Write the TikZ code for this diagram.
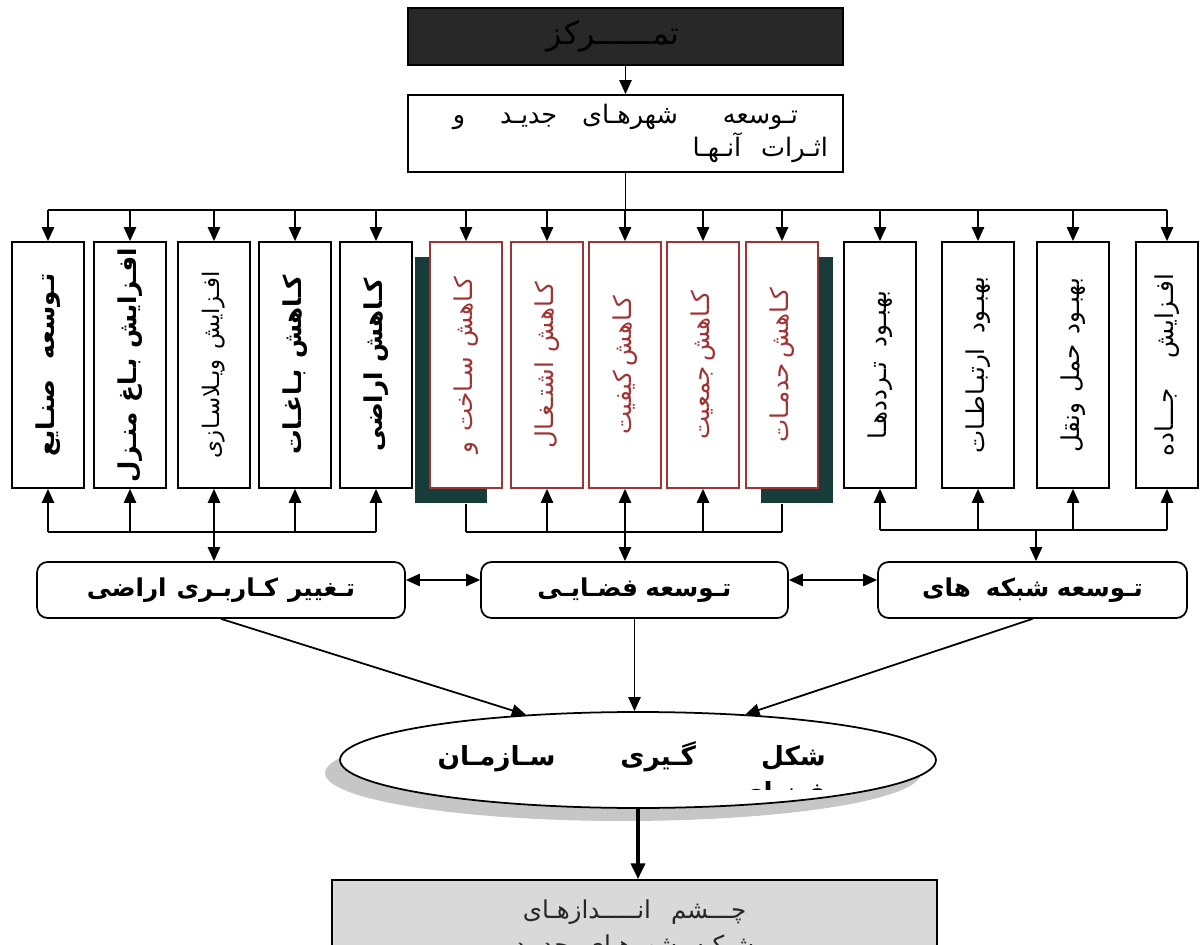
\documentclass[tikz,border=0pt]{standalone}
\usepackage{fontspec}
\usetikzlibrary{positioning,shapes.geometric,arrows.meta,shadows}
\TeXXeTstate=1
\newfontfamily\arabicfont[Script=Arabic]{DejaVu Sans}
\newcommand{\ar}[1]{\arabicfont\beginR #1\endR}
\newcommand{\vt}[1]{\rotatebox{90}{\arabicfont\beginR #1\endR}}
\definecolor{boxred}{RGB}{160,52,52}
\definecolor{shadeteal}{RGB}{24,60,58}
\definecolor{topgray}{RGB}{40,40,40}
\definecolor{lowgray}{RGB}{217,217,217}
\tikzset{topbox/.style={draw=black, fill=topgray, line width=1pt, minimum width=8.7cm, minimum height=1.14cm, font=\fontsize{18}{20}\selectfont},
newbox/.style={draw=black, fill=white, line width=1pt, minimum width=8.7cm, minimum height=1.54cm, text width=8.1cm, align=right, font=\fontsize{14.5}{19}\selectfont},
vertbox/.style={draw=black, fill=white, line width=1pt, minimum width=1.44cm, minimum height=4.92cm, inner sep=0pt, font=\bfseries\fontsize{14}{16}\selectfont},
thinbox/.style={vertbox, font=\fontsize{13}{16}\selectfont},
redbox/.style={vertbox, draw=boxred, text=boxred, font=\fontsize{14}{16}\selectfont},
tealshadow/.style={drop shadow={shadow xshift=#1, shadow yshift=-0.3cm, fill=shadeteal, opacity=1}},
midbox/.style={draw=black, fill=white, rounded corners=6pt, line width=1pt, minimum height=1.12cm, inner sep=0pt, font=\bfseries\fontsize{14}{16}\selectfont},
arr/.style={line width=1pt, -{Triangle[length=8pt,width=7pt]}},
dblarr/.style={line width=1pt, {Triangle[length=8pt,width=7pt]}-{Triangle[length=8pt,width=7pt]}},
ln/.style={line width=1pt},}
\begin{document}
\begin{tikzpicture}[x=0.02cm, y=-0.02cm]
\useasboundingbox (0,0) rectangle (1200,945);
\node [topbox] (conc) at (625.5,36.5) {\ar{\hspace{0.5cm}تمــــــرکز}};
\node [newbox] (newcity) at (625.5,133.5) {\ar{\hspace{0.6cm}تـوسعه\hspace{0.9cm}شهرهـای\hspace{0.5cm}جدیـد\hspace{0.7cm}و}\\ \ar{اثـرات\hspace{0.4cm}آنـهـا}};
\draw [arr] (conc) -- (newcity);
% ردیف جعبه های عمودی
\node [vertbox] (b1) at (48,365) {\vt{تـوسعه\hspace{0.4cm}صنـایع}};
\node [vertbox] (b2) at (130,365) {\vt{افـزایش\hspace{0.2cm}بـاغ\hspace{0.2cm}منـزل}};
\node [thinbox] (b3) at (214,365) {\vt{افـزایش\hspace{0.2cm}ویـلاسـازی}};
\node [vertbox] (b4) at (295,365) {\vt{کـاهش\hspace{0.2cm}بـاغـات}};
\node [vertbox] (b5) at (376,365) {\vt{کـاهش\hspace{0.2cm}اراضی}};
\node [redbox, tealshadow=-0.3cm] (b6) at (466,365) {\vt{کـاهش\hspace{0.2cm}سـاخت\hspace{0.2cm}و}};
\node [redbox] (b7) at (547,365) {\vt{کـاهش\hspace{0.2cm}اشتـغـال}};
\node [redbox] (b8) at (625,365) {\vt{کـاهش\hspace{0.1cm}کیفیت}};
\node [redbox] (b9) at (703,365) {\vt{کـاهش\hspace{0.1cm}جمعیت}};
\node [redbox, tealshadow=0.3cm] (b10) at (782,365) {\vt{کـاهش\hspace{0.1cm}حدمـات}};
\node [vertbox, font=\fontsize{14}{16}\selectfont] (b11) at (880,365) {\vt{بهبـود\hspace{0.3cm}تـرددهـا}};
\node [vertbox, font=\fontsize{14}{16}\selectfont] (b12) at (978,365) {\vt{بهبـود\hspace{0.3cm}ارتبـاطـات}};
\node [vertbox, font=\fontsize{14}{16}\selectfont] (b13) at (1073,365) {\vt{بهبـود\hspace{0.2cm}حمل\hspace{0.2cm}ونقل}};
\node [vertbox, font=\fontsize{14}{16}\selectfont, minimum width=1.24cm] (b14) at (1167,365) {\vt{افـزایش\hspace{0.6cm}جـــاده}};
% پخش از توسعه شهرهای جدید
\coordinate (tj) at (625.5,210);
\draw [ln] (newcity) -- (tj);
\draw [ln] (b1.north |- tj) -- (b14.north |- tj);
\draw [arr] (b1.north |- tj) -- (b1);
\draw [arr] (b2.north |- tj) -- (b2);
\draw [arr] (b3.north |- tj) -- (b3);
\draw [arr] (b4.north |- tj) -- (b4);
\draw [arr] (b5.north |- tj) -- (b5);
\draw [arr] (b6.north |- tj) -- (b6);
\draw [arr] (b7.north |- tj) -- (b7);
\draw [arr] (b8.north |- tj) -- (b8);
\draw [arr] (b9.north |- tj) -- (b9);
\draw [arr] (b10.north |- tj) -- (b10);
\draw [arr] (b11.north |- tj) -- (b11);
\draw [arr] (b12.north |- tj) -- (b12);
\draw [arr] (b13.north |- tj) -- (b13);
\draw [arr] (b14.north |- tj) -- (b14);
% سه جعبه میانی
\node [midbox, minimum width=7.36cm] (landuse) at (221,590) {\ar{تـغییر\hspace{0.2cm}کـاربـری\hspace{0.2cm}اراضی}};
\node [midbox, minimum width=6.14cm] (spatial) at (634.5,590) {\ar{تـوسعه\hspace{0.15cm}فضـایـی}};
\node [midbox, minimum width=6.18cm] (network) at (1032.5,590) {\ar{تـوسعه\hspace{0.15cm}شبکه\hspace{0.3cm}های}};
\draw [dblarr] ([yshift=0.2cm]landuse.east) -- ([yshift=0.2cm]spatial.west);
\draw [dblarr] ([yshift=0.2cm]spatial.east) -- ([yshift=0.2cm]network.west);
% گروه چپ
\coordinate (lj) at (214,532);
\draw [ln] (b1.south |- lj) -- (b5.south |- lj);
\draw [arr] (b1.south |- lj) -- (b1);
\draw [arr] (b2.south |- lj) -- (b2);
\draw [dblarr] (b3) -- (b3 |- landuse.north);
\draw [arr] (b4.south |- lj) -- (b4);
\draw [arr] (b5.south |- lj) -- (b5);
% گروه میانی
\coordinate (mj) at (625,532);
\draw [ln] (b6.south |- mj) -- (b10.south |- mj);
\draw [ln] (b6.south |- mj) -- ([yshift=-0.3cm]b6.south);
\draw [arr] (b7.south |- mj) -- (b7);
\draw [dblarr] (b8) -- (b8 |- spatial.north);
\draw [arr] (b9.south |- mj) -- (b9);
\draw [ln] (b10.south |- mj) -- ([yshift=-0.3cm]b10.south);
% گروه راست
\coordinate (rj) at (1036,530);
\draw [ln] (b11.south |- rj) -- (b14.south |- rj);
\draw [arr] (b11.south |- rj) -- (b11);
\draw [arr] (b12.south |- rj) -- (b12);
\draw [arr] (b13.south |- rj) -- (b13);
\draw [arr] (b14.south |- rj) -- (b14);
\draw [arr] (rj) -- (rj |- network.north);
% بیضی
\node [ellipse, draw=black, fill=white, line width=1pt, minimum width=11.92cm, minimum height=1.92cm, inner sep=0pt, drop shadow={shadow xshift=-0.3cm, shadow yshift=-0.26cm, fill=gray!45, opacity=1}] (form) at (638,760) {};
\node [anchor=east, font=\bfseries\fontsize{15}{18}\selectfont] (formtxt) at (832,757) {\ar{شکل\hspace{1.3cm}گـیری\hspace{1.3cm}سـازمـان}};
\begin{scope}
\clip (330,700) rectangle (950,789);
\node [anchor=east, font=\bfseries\fontsize{15}{18}\selectfont] (formtxt2) at (832,794) {\ar{فضـای\hspace{0.3cm}جـدیـد}};
\end{scope}
\draw [arr] (landuse.south) -- (form.158);
\draw [arr] (spatial.south) -- (form.north -| spatial.south);
\draw [arr] (network.south) -- (form.23);
% چشم انداز
\node [draw=black, fill=lowgray, line width=1pt, minimum width=12.1cm, minimum height=2cm, align=center, font=\fontsize{14}{20}\selectfont, text=black!85] (vision) at (634.5,930) {\ar{چـــشم\hspace{0.4cm}انـــــدازهـای}\\ \ar{شبکـه\hspace{0.3cm}شهرهـای\hspace{0.3cm}جدیـد}};
\draw [line width=2pt, -{Triangle[length=9pt,width=8pt]}] (form.south) -- (form.south |- vision.north);
\end{tikzpicture}
\end{document}
